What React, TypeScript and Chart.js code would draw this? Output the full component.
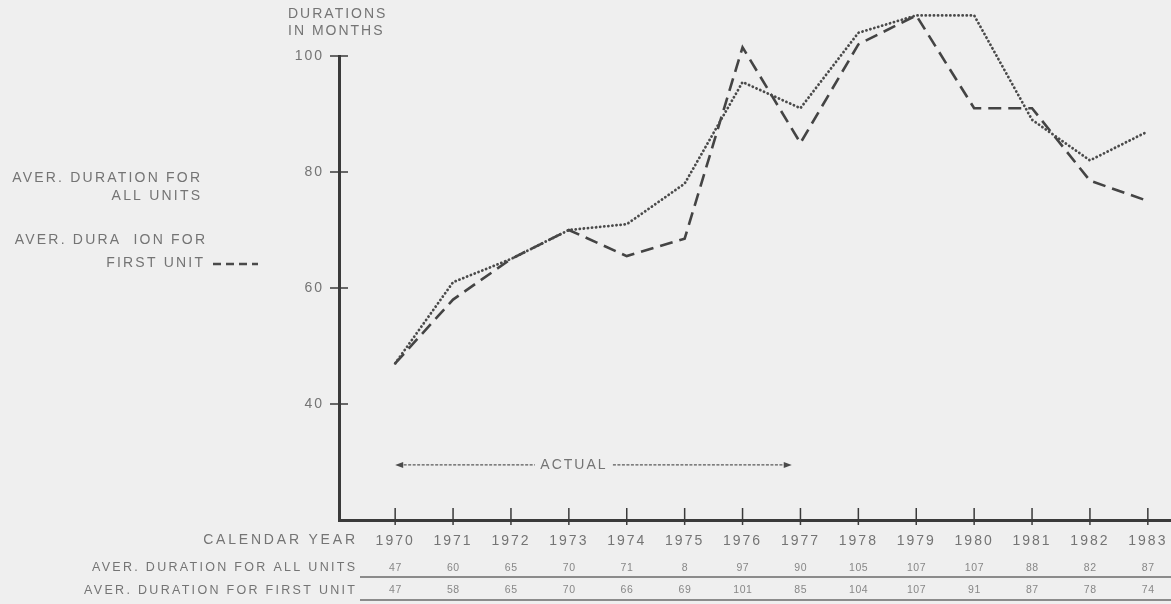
import React, { useEffect, useRef } from 'react';
import { Chart, registerables } from 'chart.js';

Chart.register(...registerables);

// ---------- data ----------
const years = [1970, 1971, 1972, 1973, 1974, 1975, 1976, 1977, 1978, 1979, 1980, 1981, 1982, 1983];
// values as plotted on the chart
const allUnitsPlotted = [47, 61, 65, 70, 71, 78, 95.5, 91, 104, 107, 107, 89, 82, 87];
const firstUnitPlotted = [47, 58, 65, 70, 65.5, 68.5, 101.5, 85, 102, 107, 91, 91, 78.5, 75];
// values as printed in the table under the chart
const allUnitsTable = ['47', '60', '65', '70', '71', '8', '97', '90', '105', '107', '107', '88', '82', '87'];
const firstUnitTable = ['47', '58', '65', '70', '66', '69', '101', '85', '104', '107', '91', '87', '78', '74'];
const yTickValues = [40, 60, 80, 100];
const yMin = 20;
const yMax = 100;
const xMin = 1969.03;
const xMax = 1983.4;
const actualRange = [1970, 1976.85];
const actualLevel = 29.5;
const actualLabelAt = 1973.07;
const actualLabel = 'ACTUAL';
const yAxisTitle = ['DURATIONS', 'IN MONTHS'];
const legendAllUnits = ['AVER. DURATION FOR', 'ALL UNITS'];
const legendFirstUnit = ['AVER. DURA  ION FOR', 'FIRST UNIT'];
const rowLabels = ['CALENDAR YEAR', 'AVER. DURATION FOR ALL UNITS', 'AVER. DURATION FOR FIRST UNIT'];

// ---------- styles ----------
const FONT = '"Liberation Sans", Arial, Helvetica, sans-serif';
const TEXT = '#747474';
const LIGHT_TEXT = '#878787';
const LINE = '#4a4a4a';
const AXIS = '#3a3a3a';
const BG = '#efefef';

function drawText(ctx: CanvasRenderingContext2D, s: string, x: number, y: number, size: number, align: CanvasTextAlign, spacing: number, color: string) {
  ctx.save();
  (ctx as any).letterSpacing = spacing + 'px';
  ctx.font = `${size}px ${FONT}`;
  ctx.fillStyle = color;
  ctx.textAlign = align;
  ctx.textBaseline = 'middle';
  let dx = 0;
  if (align === 'right') dx = spacing;
  else if (align === 'center') dx = spacing / 2;
  ctx.fillText(s, x + dx, y);
  ctx.restore();
}

function seg(ctx: CanvasRenderingContext2D, x1: number, y1: number, x2: number, y2: number) {
  ctx.beginPath();
  ctx.moveTo(x1, y1);
  ctx.lineTo(x2, y2);
  ctx.stroke();
}

const decorPlugin = {
  id: 'decor',
  beforeDraw(chart: any) {
    const ctx: CanvasRenderingContext2D = chart.ctx;
    ctx.save();
    ctx.fillStyle = BG;
    ctx.fillRect(0, 0, chart.width, chart.height);
    ctx.restore();
    (ctx as any).letterSpacing = '2px';
  },
  afterDraw(chart: any) {
    const ctx: CanvasRenderingContext2D = chart.ctx;
    const x = chart.scales.x;
    const y = chart.scales.y;
    const area = chart.chartArea;
    const axX = area.left;
    const axY = area.bottom;

    ctx.save();
    ctx.strokeStyle = AXIS;
    ctx.lineWidth = 1.5;
    // crossing tick marks on y axis
    yTickValues.forEach((v) => {
      const py = y.getPixelForValue(v);
      seg(ctx, axX - 9, py, axX + 9, py);
    });
    // crossing tick marks on x axis
    years.forEach((v) => {
      const px = x.getPixelForValue(v);
      seg(ctx, px, axY - 12, px, axY + 5);
    });
    ctx.restore();

    // y-axis title
    drawText(ctx, yAxisTitle[0], 288, 14, 14, 'left', 2, TEXT);
    drawText(ctx, yAxisTitle[1], 288, 31, 14, 'left', 2, TEXT);

    // legend on the left
    drawText(ctx, legendAllUnits[0], 200, 178, 14, 'right', 2.2, TEXT);
    drawText(ctx, legendAllUnits[1], 200, 196, 14, 'right', 2.2, TEXT);
    drawText(ctx, legendFirstUnit[0], 205, 240, 14, 'right', 2.2, TEXT);
    drawText(ctx, legendFirstUnit[1], 203, 263, 14, 'right', 2.2, TEXT);
    ctx.save();
    ctx.strokeStyle = LINE;
    ctx.lineWidth = 2.5;
    ctx.setLineDash([8, 5]);
    seg(ctx, 213, 264, 258, 264);
    ctx.restore();

    // ACTUAL arrow
    const ay = y.getPixelForValue(actualLevel);
    const ax1 = x.getPixelForValue(actualRange[0]);
    const ax2 = x.getPixelForValue(actualRange[1]);
    const lx = x.getPixelForValue(actualLabelAt);
    ctx.save();
    ctx.strokeStyle = '#5a5a5a';
    ctx.fillStyle = '#4a4a4a';
    ctx.lineWidth = 1.4;
    ctx.setLineDash([3, 1.5]);
    seg(ctx, ax1 + 4, ay, lx - 38, ay);
    seg(ctx, lx + 40, ay, ax2 - 4, ay);
    ctx.setLineDash([]);
    ctx.beginPath();
    ctx.moveTo(ax1, ay);
    ctx.lineTo(ax1 + 8, ay - 3);
    ctx.lineTo(ax1 + 8, ay + 3);
    ctx.closePath();
    ctx.fill();
    ctx.beginPath();
    ctx.moveTo(ax2, ay);
    ctx.lineTo(ax2 - 8, ay - 3);
    ctx.lineTo(ax2 - 8, ay + 3);
    ctx.closePath();
    ctx.fill();
    ctx.restore();
    drawText(ctx, actualLabel, lx, ay, 14, 'center', 2, TEXT);

    // table below the axis
    drawText(ctx, rowLabels[0], 355, 540, 14, 'right', 2.8, TEXT);
    drawText(ctx, rowLabels[1], 355, 568, 12.5, 'right', 2.3, TEXT);
    drawText(ctx, rowLabels[2], 355, 591, 12.5, 'right', 2.3, TEXT);
    years.forEach((yr, i) => {
      const px = x.getPixelForValue(yr);
      drawText(ctx, allUnitsTable[i], px, 568, 10.5, 'center', 0.6, LIGHT_TEXT);
      drawText(ctx, firstUnitTable[i], px, 590, 10.5, 'center', 0.6, LIGHT_TEXT);
    });
    ctx.save();
    ctx.strokeStyle = '#6a6a6a';
    ctx.lineWidth = 1.5;
    seg(ctx, 360, 577, chart.width, 577);
    seg(ctx, 360, 600, chart.width, 600);
    ctx.restore();
  },
};

export default function App() {
  const ref = useRef<HTMLCanvasElement | null>(null);

  useEffect(() => {
    document.body.style.margin = '0';
    document.body.style.background = BG;
    const canvas = ref.current;
    if (!canvas) return;
    const chart = new Chart(canvas, {
      type: 'line',
      data: {
        datasets: [
          {
            label: 'AVER. DURATION FOR ALL UNITS',
            data: years.map((yr, i) => ({ x: yr, y: allUnitsPlotted[i] })),
            borderColor: LINE,
            borderWidth: 2.8,
            borderDash: [0.1, 4],
            borderCapStyle: 'round',
            pointRadius: 0,
            tension: 0,
            fill: false,
            clip: false,
          } as any,
          {
            label: 'AVER. DURATION FOR FIRST UNIT',
            data: years.map((yr, i) => ({ x: yr, y: firstUnitPlotted[i] })),
            borderColor: '#444444',
            borderWidth: 2.6,
            borderDash: [13, 7],
            pointRadius: 0,
            tension: 0,
            fill: false,
            clip: false,
          } as any,
        ],
      },
      options: {
        responsive: false,
        animation: false,
        devicePixelRatio: 1,
        layout: { padding: { top: 56, left: 0, right: 0, bottom: 0 } },
        plugins: {
          legend: { display: false },
          tooltip: { enabled: false },
        },
        scales: {
          x: {
            type: 'linear',
            min: xMin,
            max: xMax,
            afterBuildTicks: (s: any) => {
              s.ticks = years.map((v) => ({ value: v }));
            },
            afterFit: (s: any) => {
              s.height = 84;
              s.paddingLeft = 0;
              s.paddingRight = 0;
            },
            ticks: {
              autoSkip: false,
              maxRotation: 0,
              minRotation: 0,
              color: TEXT,
              font: { family: FONT, size: 14 },
              padding: 13,
              callback: (v: any) => String(v),
            },
            grid: { display: false, drawTicks: false },
            border: { display: true, width: 3, color: AXIS },
          },
          y: {
            type: 'linear',
            min: yMin,
            max: yMax,
            afterBuildTicks: (s: any) => {
              s.ticks = yTickValues.map((v) => ({ value: v }));
            },
            afterFit: (s: any) => {
              s.width = 339;
              s.paddingTop = 0;
              s.paddingBottom = 0;
            },
            ticks: {
              color: TEXT,
              font: { family: FONT, size: 14 },
              padding: 15,
              callback: (v: any) => String(v),
            },
            grid: { display: false, drawTicks: false },
            border: { display: true, width: 3, color: AXIS },
          },
        },
      },
      plugins: [decorPlugin],
    });
    return () => chart.destroy();
  }, []);

  return (
    <div style={{ width: 1171, height: 604, background: BG }}>
      <canvas ref={ref} width={1171} height={604} style={{ display: 'block' }} />
    </div>
  );
}
